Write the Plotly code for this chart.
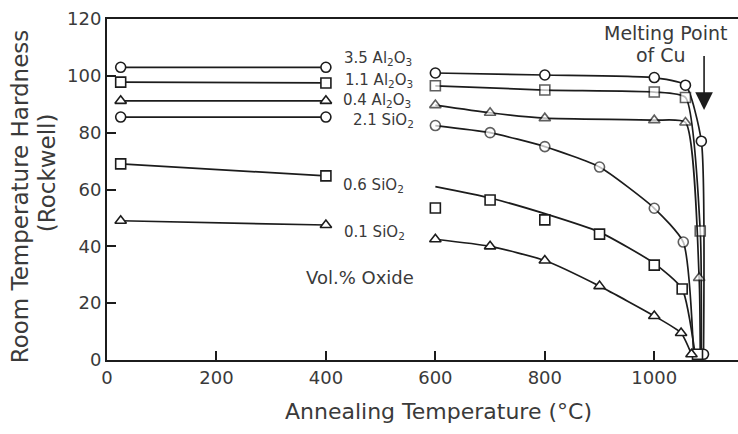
import plotly.graph_objects as go

# ---------------- data ----------------
# Left group (low annealing temperatures)
left_x = [25, 400]
al35_left_y = [103, 103]
al11_left_y = [97.8, 97.5]
al04_left_y = [91.2, 91.2]
si21_left_y = [85.5, 85.5]
si06_left_y = [69, 64.8]
si01_left_y = [49, 47.5]

# Right group (high annealing temperatures)
al35_x = [600, 800, 1000, 1057, 1086, 1090]
al35_y = [101, 100.3, 99.4, 96.7, 77, 2]

al11_x = [600, 800, 1000, 1057, 1084, 1086]
al11_y = [96.5, 95, 94.3, 92.4, 45.4, 1.5]

al04_x = [600, 700, 800, 1000, 1057, 1082, 1084]
al04_y = [89.7, 87, 85.1, 84.4, 83.6, 28.9, 1.5]

si21_x = [600, 700, 800, 900, 1000, 1053, 1072]
si21_y = [82.5, 80, 75.1, 67.9, 53.4, 41.5, 1.5]

si06_x = [600, 700, 800, 900, 1000, 1051, 1079]
si06_y = [53.5, 56.3, 49.3, 44.3, 33.4, 25, 2]
si06_line_x = [600, 700, 800, 900, 1000, 1051, 1075]
si06_line_y = [61, 57, 51.5, 45, 34, 25, 1.5]

si01_x = [600, 700, 800, 900, 1000, 1049, 1068]
si01_y = [42.5, 40, 35, 26, 15.5, 9.5, 2]

series_labels = ["3.5 Al<sub>2</sub>O<sub>3</sub>", "1.1 Al<sub>2</sub>O<sub>3</sub>",
                 "0.4 Al<sub>2</sub>O<sub>3</sub>", "2.1 SiO<sub>2</sub>",
                 "0.6 SiO<sub>2</sub>", "0.1 SiO<sub>2</sub>"]
label_x = [430, 432, 428, 445, 428, 430]
label_y = [106, 98.2, 91.4, 84.4, 61.5, 45]

x_ticks = [0, 200, 400, 600, 800, 1000]
y_ticks = [0, 20, 40, 60, 80, 100, 120]

# ---------------- styling ----------------
INK = "#1c1c1c"
TXT = "#3a3a3a"
FONT = "DejaVu Sans"
MS = 10

fig = go.Figure()


def add(x, y, symbol, sizes=None, mode="lines+markers", smoothing=0.55):
    fig.add_trace(go.Scatter(
        x=x, y=y, mode=mode,
        line=dict(color=INK, width=1.7, shape="spline", smoothing=smoothing),
        marker=dict(symbol=symbol, size=sizes if sizes is not None else MS,
                    color="white", line=dict(color=INK, width=1.6)),
        showlegend=False, hoverinfo="skip", cliponaxis=False))


def sizes_hide_last(n):
    return [MS] * (n - 1) + [0]


# left group
add(left_x, al35_left_y, "circle")
add(left_x, al11_left_y, "square")
add(left_x, al04_left_y, "triangle-up")
add(left_x, si21_left_y, "circle")
add(left_x, si06_left_y, "square")
add(left_x, si01_left_y, "triangle-up")

# right group
add(al35_x, al35_y, "circle")
add(al11_x, al11_y, "square", sizes_hide_last(len(al11_x)))
add(al04_x, al04_y, "triangle-up", sizes_hide_last(len(al04_x)))
add(si21_x, si21_y, "circle", sizes_hide_last(len(si21_x)))
add(si06_line_x, si06_line_y, "square", mode="lines")
add(si06_x, si06_y, "square", mode="markers")
add(si01_x, si01_y, "triangle-up")

annotations = []
for t, lx, ly in zip(series_labels, label_x, label_y):
    annotations.append(dict(x=lx, y=ly, xref="x", yref="y", text=t, showarrow=False,
                            xanchor="left", yanchor="middle",
                            font=dict(family=FONT, size=15, color=TXT)))

annotations += [
    dict(x=360, y=29, xref="x", yref="y", text="Vol.% Oxide", showarrow=False,
         xanchor="left", yanchor="middle", font=dict(family=FONT, size=18, color=TXT)),
    dict(x=1021, y=115, xref="x", yref="y", text="Melting Point", showarrow=False,
         xanchor="center", yanchor="middle", font=dict(family=FONT, size=19, color=TXT)),
    dict(x=1012, y=107.3, xref="x", yref="y", text="of Cu", showarrow=False,
         xanchor="center", yanchor="middle", font=dict(family=FONT, size=19, color=TXT)),
    dict(x=1091, y=88, xref="x", yref="y", ax=1091, ay=107.5, axref="x", ayref="y",
         text="", showarrow=True, arrowhead=2, arrowsize=2.2, arrowwidth=1.6,
         arrowcolor=INK),
    # axis titles
    dict(x=-0.138, y=0.48, xref="paper", yref="paper", text="Room Temperature Hardness",
         textangle=-90, showarrow=False, xanchor="center", yanchor="middle",
         font=dict(family=FONT, size=23, color=TXT)),
    dict(x=-0.095, y=0.548, xref="paper", yref="paper", text="(Rockwell)",
         textangle=-90, showarrow=False, xanchor="center", yanchor="middle",
         font=dict(family=FONT, size=23, color=TXT)),
    dict(x=0.525, y=-0.152, xref="paper", yref="paper", text="Annealing Temperature (°C)",
         showarrow=False, xanchor="center", yanchor="middle",
         font=dict(family=FONT, size=22, color=TXT)),
]

fig.update_layout(
    width=738, height=434,
    margin=dict(l=107, r=0, t=19, b=74),
    paper_bgcolor="white", plot_bgcolor="white",
    annotations=annotations,
    xaxis=dict(range=[0, 1153], tickvals=x_ticks, ticktext=[str(v) for v in x_ticks],
               showgrid=False, zeroline=False, showline=True, linecolor=INK, linewidth=2,
               mirror=True, ticks="inside", ticklen=9, tickwidth=1.6, tickcolor=INK,
               tickfont=dict(family=FONT, size=18, color=TXT)),
    yaxis=dict(range=[0, 120], tickvals=y_ticks, ticktext=[str(v) for v in y_ticks],
               showgrid=False, zeroline=False, showline=True, linecolor=INK, linewidth=2,
               mirror=False, ticks="inside", ticklen=9, tickwidth=1.6, tickcolor=INK,
               tickfont=dict(family=FONT, size=18, color=TXT)),
)

fig.write_html("out.html")
